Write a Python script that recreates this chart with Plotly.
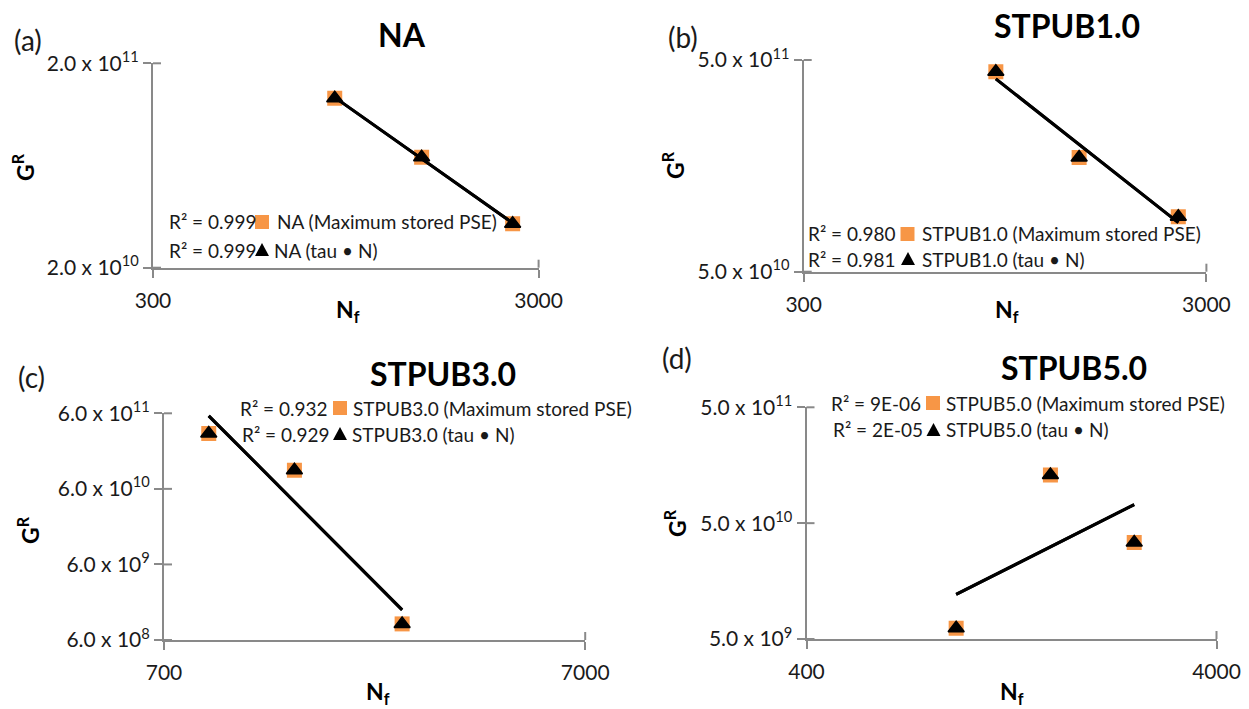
import numpy as np
import plotly.graph_objects as go

W, H = 1249, 709

# ---------------- data ----------------
panel_ids = ["a", "b", "c", "d"]
panel_titles = ["NA", "STPUB1.0", "STPUB3.0", "STPUB5.0"]

nf_na = [888, 1492, 2569]
gr_na_pse = [1.35e11, 6.95e10, 3.28e10]
gr_na_tau = [1.35e11, 6.95e10, 3.28e10]

nf_stpub1 = [900, 1449, 2555]
gr_stpub1_pse = [4.4e11, 1.73e11, 9.1e10]
gr_stpub1_tau = [4.4e11, 1.73e11, 9.1e10]

nf_stpub3 = [894, 1428, 2573]
gr_stpub3_pse = [3.25e11, 1.06e11, 9.8e8]
gr_stpub3_tau = [3.25e11, 1.06e11, 9.8e8]

nf_stpub5 = [927, 1574, 2520]
gr_stpub5_pse = [6.2e9, 1.3e11, 3.4e10]
gr_stpub5_tau = [6.2e9, 1.3e11, 3.4e10]

r2_pse = ["0.999", "0.980", "0.932", "9E-06"]
r2_tau = ["0.999", "0.981", "0.929", "2E-05"]

x_tickvals = [[300, 3000], [300, 3000], [700, 7000], [400, 4000]]
x_ticktext = [["300", "3000"], ["300", "3000"], ["700", "7000"], ["400", "4000"]]
y_tickvals = [[2e10, 2e11], [5e10, 5e11], [6e8, 6e9, 6e10, 6e11], [5e9, 5e10, 5e11]]
y_ticktext = [
    ["2.0 x 10<sup>10</sup>", "2.0 x 10<sup>11</sup>"],
    ["5.0 x 10<sup>10</sup>", "5.0 x 10<sup>11</sup>"],
    ["6.0 x 10<sup>8</sup>", "6.0 x 10<sup>9</sup>", "6.0 x 10<sup>10</sup>", "6.0 x 10<sup>11</sup>"],
    ["5.0 x 10<sup>9</sup>", "5.0 x 10<sup>10</sup>", "5.0 x 10<sup>11</sup>"],
]

nf_all = [nf_na, nf_stpub1, nf_stpub3, nf_stpub5]
pse_all = [gr_na_pse, gr_stpub1_pse, gr_stpub3_pse, gr_stpub5_pse]
tau_all = [gr_na_tau, gr_stpub1_tau, gr_stpub3_tau, gr_stpub5_tau]

# ---------------- layout geometry (pixels) ----------------
boxes = [(153, 538.6, 63.3, 267.7), (803.7, 1206.4, 60, 271.7),
         (164, 585.2, 413.3, 640), (806.5, 1216.5, 407.3, 639)]
letter_pos = [(12, 40), (666, 37), (16, 377), (660, 358)]
title_pos = [(402, 34), (1067, 26), (443, 374), (1074, 367)]
nf_pos = [(348, 310), (1007, 310), (378, 692), (1012, 692)]
gr_pos = [(24, 167), (674, 165), (28, 530), (675, 523)]
leg1 = [(167, 222, 262, 275), (806, 234, 907.5, 920), (238, 408, 340, 351), (829, 403, 933, 944)]
leg2 = [(167, 250, 262, 272), (806, 259, 908, 920), (240, 434, 340, 350), (831, 430, 933.5, 944)]

ORANGE = "#F79646"
AXC = "#898989"
FONT = "Lato"
TXT = "#1a1a1a"


def px(x):
    return x / W


def py(y):
    return 1 - y / H


fig = go.Figure()
annotations = []
shapes = []

for i in range(4):
    n = "" if i == 0 else str(i + 1)
    xa, ya = "x" + n, "y" + n
    x0, x1, yt, yb = boxes[i]
    xv, yv = x_tickvals[i], y_tickvals[i]

    fig.add_trace(go.Scatter(
        x=nf_all[i], y=pse_all[i], mode="markers", xaxis=xa, yaxis=ya,
        marker=dict(symbol="square", size=15, color=ORANGE), showlegend=False,
        name=panel_titles[i] + " (Maximum stored PSE)"))
    fig.add_trace(go.Scatter(
        x=nf_all[i], y=tau_all[i], mode="markers", xaxis=xa, yaxis=ya,
        marker=dict(symbol="triangle-up", size=14, color="black",
                    line=dict(color="black", width=1.5)), showlegend=False,
        name=panel_titles[i] + " (tau • N)"))
    # power-law trendlines (least squares in log-log space) over the data range
    for series in (pse_all[i], tau_all[i]):
        lx = np.log10(nf_all[i])
        ly = np.log10(series)
        k, b = np.polyfit(lx, ly, 1)
        xs = np.array([min(nf_all[i]), max(nf_all[i])], dtype=float)
        ys = 10 ** (b + k * np.log10(xs))
        fig.add_trace(go.Scatter(x=xs, y=ys, mode="lines", xaxis=xa, yaxis=ya,
                                 line=dict(color="black", width=3), showlegend=False,
                                 hoverinfo="skip"))

    common = dict(type="log", showline=True, linecolor=AXC, linewidth=2,
                  ticks="outside", ticklen=8, tickwidth=2, tickcolor=AXC,
                  showgrid=False, zeroline=False, tickmode="array", automargin=False,
                  tickfont=dict(family=FONT, size=21, color=TXT))
    fig.update_layout(**{
        ("xaxis" + n): dict(common, domain=[px(x0), px(x1)], anchor=ya,
                            range=[np.log10(xv[0]), np.log10(xv[-1])],
                            tickvals=xv, ticktext=x_ticktext[i], ticklabelstandoff=5),
        ("yaxis" + n): dict(common, domain=[py(yb), py(yt)], anchor=xa,
                            range=[np.log10(yv[0]), np.log10(yv[-1])],
                            tickvals=yv, ticktext=y_ticktext[i]),
    })

    # inner halves of the cross-style tick marks
    lo, hi = np.log10(yv[0]), np.log10(yv[-1])
    for v in yv:
        f = (np.log10(v) - lo) / (hi - lo)
        shapes.append(dict(type="line", xref=xa + " domain", yref=ya + " domain",
                           xsizemode="pixel", xanchor=0, x0=0, x1=8, y0=f, y1=f,
                           line=dict(color=AXC, width=2)))
    shapes.append(dict(type="line", xref=xa + " domain", yref=ya + " domain",
                       ysizemode="pixel", yanchor=0, y0=0, y1=8, x0=1, x1=1,
                       line=dict(color=AXC, width=2)))

    annotations.append(dict(text="(" + panel_ids[i] + ")", x=px(letter_pos[i][0]), y=py(letter_pos[i][1]),
                            xref="paper", yref="paper", xanchor="left", yanchor="middle",
                            showarrow=False, font=dict(family=FONT, size=28, color=TXT)))
    annotations.append(dict(text="<b>" + panel_titles[i] + "</b>", x=px(title_pos[i][0]), y=py(title_pos[i][1]),
                            xref="paper", yref="paper", xanchor="center", yanchor="middle",
                            showarrow=False, font=dict(family=FONT, size=32, color="black")))
    annotations.append(dict(text="<b>N<sub>f</sub></b>", x=px(nf_pos[i][0]), y=py(nf_pos[i][1]),
                            xref="paper", yref="paper", xanchor="center", yanchor="middle",
                            showarrow=False, font=dict(family=FONT, size=23, color="black")))
    annotations.append(dict(text="<b>G<sup>R</sup></b>", x=px(gr_pos[i][0]), y=py(gr_pos[i][1]),
                            xref="paper", yref="paper", xanchor="center", yanchor="middle",
                            textangle=-90, showarrow=False, font=dict(family=FONT, size=23, color="black")))

    for row, r2, label, sym in ((leg1[i], r2_pse[i], panel_titles[i] + " (Maximum stored PSE)", "sq"),
                                (leg2[i], r2_tau[i], panel_titles[i] + " (tau • N)", "tri")):
        rx, ry, mx, nx = row
        annotations.append(dict(text="R² = " + r2, x=px(rx), y=py(ry), xref="paper", yref="paper",
                                xanchor="left", yanchor="middle", showarrow=False,
                                font=dict(family=FONT, size=19, color=TXT)))
        annotations.append(dict(text=label, x=px(nx), y=py(ry), xref="paper", yref="paper",
                                xanchor="left", yanchor="middle", showarrow=False,
                                font=dict(family=FONT, size=19, color=TXT)))
        if sym == "sq":
            shapes.append(dict(type="rect", xref="paper", yref="paper",
                               xsizemode="pixel", ysizemode="pixel",
                               xanchor=px(mx), yanchor=py(ry), x0=-7, x1=7, y0=-7, y1=7,
                               fillcolor=ORANGE, line=dict(width=0)))
        else:
            shapes.append(dict(type="path", xref="paper", yref="paper",
                               xsizemode="pixel", ysizemode="pixel",
                               xanchor=px(mx), yanchor=py(ry),
                               path="M-7,-6 L7,-6 L0,7 Z",
                               fillcolor="black", line=dict(width=0)))

fig.update_layout(width=W, height=H, autosize=False,
                  margin=dict(l=0, r=0, t=0, b=0, autoexpand=False),
                  paper_bgcolor="white", plot_bgcolor="white",
                  showlegend=False, annotations=annotations, shapes=shapes,
                  font=dict(family=FONT, color=TXT), hovermode=False)

fig.write_html("out.html", config={"displayModeBar": False, "staticPlot": True},
               post_script="document.body.style.margin='0';document.body.style.overflow='hidden';")
